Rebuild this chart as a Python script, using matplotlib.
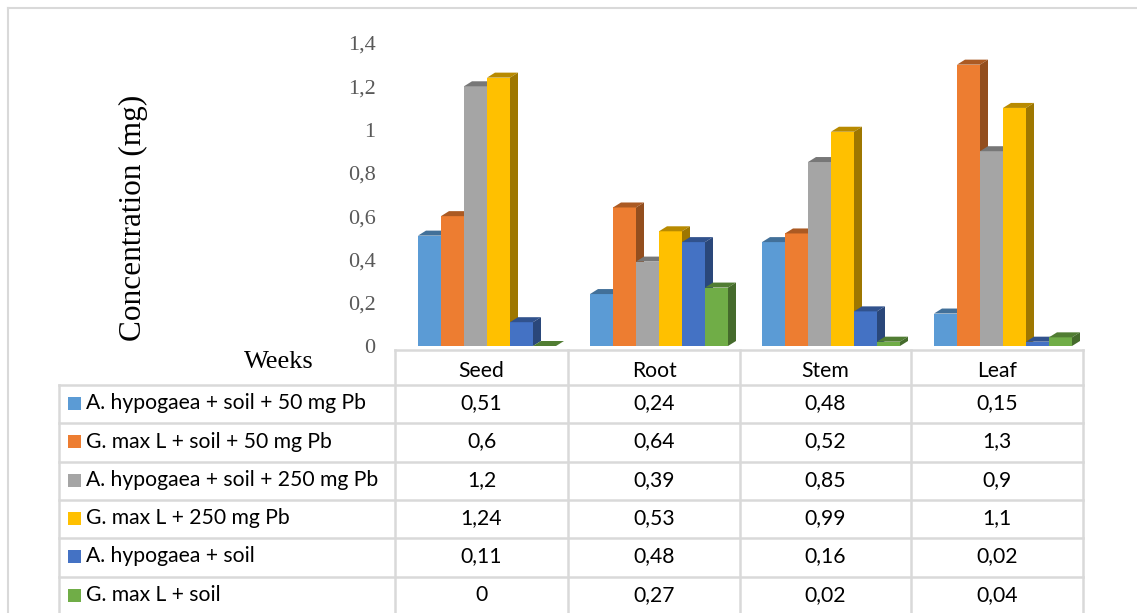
import numpy as np
import matplotlib.pyplot as plt
from matplotlib.colors import to_rgb
from matplotlib.patches import Polygon

categories = ['Seed', 'Root', 'Stem', 'Leaf']
series_names = ['A. hypogaea + soil + 50 mg Pb',
                'G. max L + soil + 50 mg Pb',
                'A. hypogaea + soil + 250 mg Pb',
                'G. max L + 250 mg Pb',
                'A. hypogaea + soil',
                'G. max L + soil']
hypogaea_50 = [0.51, 0.24, 0.48, 0.15]
gmax_50 = [0.6, 0.64, 0.52, 1.3]
hypogaea_250 = [1.2, 0.39, 0.85, 0.9]
gmax_250 = [1.24, 0.53, 0.99, 1.1]
hypogaea_soil = [0.11, 0.48, 0.16, 0.02]
gmax_soil = [0, 0.27, 0.02, 0.04]
series = [hypogaea_50, gmax_50, hypogaea_250, gmax_250, hypogaea_soil, gmax_soil]
yticks = [0, 0.2, 0.4, 0.6, 0.8, 1, 1.2, 1.4]

COLORS = ['#5B9BD5', '#ED7D31', '#A5A5A5', '#FFC000', '#4472C4', '#70AD47']
GRID = '#D9D9D9'
W, H = 1137, 613

def shade(c, f):
    r, g, b = to_rgb(c)
    return (r * f, g * f, b * f)

def fmt(v):
    return f'{v:g}'.replace('.', ',')

fig = plt.figure(figsize=(W / 100, H / 100), dpi=100)

# chart area: categories from x=395..1083 px, y=0 at 346 px, 1.4 at 43 px
ax = fig.add_axes([395 / W, (H - 346) / H, 688 / W, 303 / H])
ax.set_xlim(-0.5, 3.5)
ax.set_ylim(0, 1.4)

bw = 23 / 172          # bar width in category units
ddx = 8 / 172          # depth offset x
ddy = 5 / 216.4        # depth offset y
x = np.arange(len(categories))

for i, vals in enumerate(series):
    lefts = x - 0.5 + bw + i * bw
    z = 2 + i
    ax.bar(lefts, vals, width=bw, align='edge', color=COLORS[i], zorder=z,
           linewidth=0)
    for l, v in zip(lefts, vals):
        top = Polygon([(l, v), (l + ddx, v + ddy), (l + bw + ddx, v + ddy), (l + bw, v)],
                      closed=True, facecolor=shade(COLORS[i], 0.72), edgecolor='none',
                      zorder=z)
        side = Polygon([(l + bw, 0), (l + bw + ddx, ddy), (l + bw + ddx, v + ddy), (l + bw, v)],
                       closed=True, facecolor=shade(COLORS[i], 0.62), edgecolor='none',
                       zorder=z)
        ax.add_patch(top)
        ax.add_patch(side)

ax.set_xticks([])
ax.set_yticks(yticks)
ax.set_yticklabels([fmt(t) for t in yticks], family='Liberation Serif',
                   fontsize=16, color='#595959')
ax.tick_params(axis='y', length=0, pad=14)
for s in ax.spines.values():
    s.set_visible(False)
ax.patch.set_alpha(0)

# overlay in pixel coordinates for table, labels and border
ov = fig.add_axes([0, 0, 1, 1], zorder=-1)
ov.set_xlim(0, W)
ov.set_ylim(H, 0)
ov.axis('off')

ov.plot([8, W], [8, 8], color=GRID, lw=1.5)
ov.plot([8, 8], [8, H], color=GRID, lw=1.5)

ov.text(133, 218, 'Concentration (mg)', rotation=90, ha='center', va='center',
        family='Liberation Serif', fontsize=22.5)
ov.text(279, 362, 'Weeks', ha='center', va='center',
        family='Liberation Serif', fontsize=19)

col_edges = [395, 568, 740, 911, 1083]
row_edges = [385, 423, 462, 500, 538, 577, 615]
tbl_font = dict(family='Lato', fontsize=15.2)

ov.plot([col_edges[0], col_edges[-1]], [350, 350], color=GRID, lw=1.8)
for y in row_edges[:-1]:
    ov.plot([59, col_edges[-1]], [y, y], color=GRID, lw=1.8)
ov.plot([59, 59], [row_edges[0], H], color=GRID, lw=1.8)
for xe in col_edges:
    ov.plot([xe, xe], [350, H], color=GRID, lw=1.8)

for j, cat in enumerate(categories):
    cx = (col_edges[j] + col_edges[j + 1]) / 2
    ov.text(cx, 371, cat, ha='center', va='center', **tbl_font)

for i, (name, vals) in enumerate(zip(series_names, series)):
    cy = (row_edges[i] + row_edges[i + 1]) / 2 - 1
    ov.add_patch(plt.Rectangle((68, cy - 6.5), 13, 13, color=COLORS[i], lw=0))
    ov.text(86, cy, name, ha='left', va='center', **tbl_font)
    for j, v in enumerate(vals):
        cx = (col_edges[j] + col_edges[j + 1]) / 2
        ov.text(cx, cy, fmt(v), ha='center', va='center', **tbl_font)

fig.savefig('out.png', dpi=100, facecolor='white')
